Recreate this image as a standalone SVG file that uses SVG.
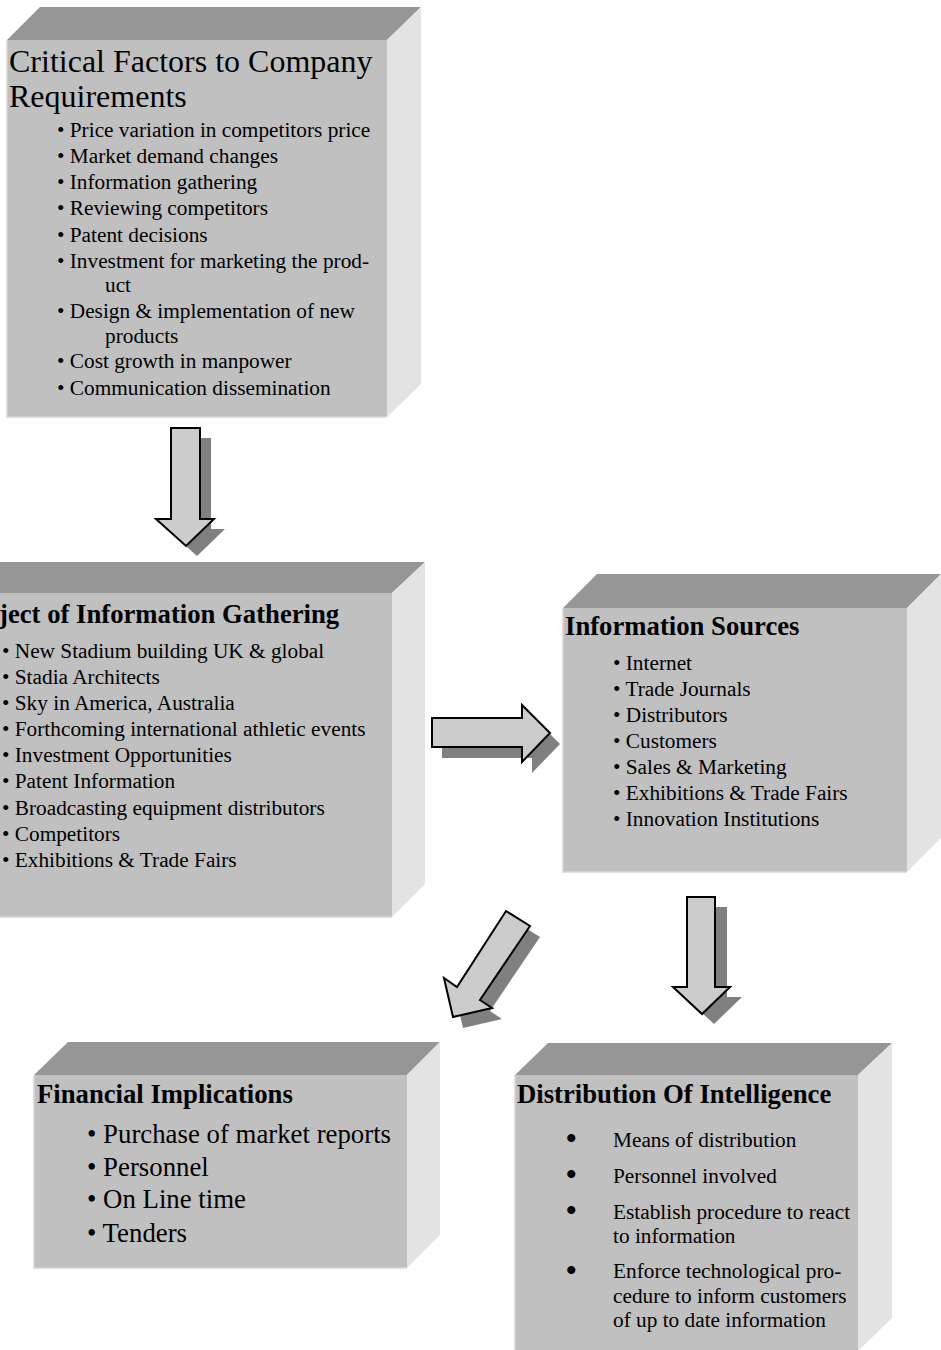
<svg xmlns="http://www.w3.org/2000/svg" width="941" height="1350" viewBox="0 0 941 1350">
<style>
.front{fill:#c0c0c0}
.top{fill:#969696}
.side{fill:#e3e3e3}
.edge{fill:none;stroke:#d6d6d6;stroke-width:1.5}
text{font-family:"Liberation Serif","Times New Roman",serif;fill:#000}
.t1{font-size:32px}
.tb{font-size:26.7px;font-weight:bold}
.b{font-size:21.3px}
.bl{font-size:26.8px}
.big{font-size:30px;font-weight:bold}
.arrow{fill:#cccccc;stroke:#000;stroke-width:2;stroke-linejoin:miter}
.shadow{fill:#808080}
</style>
<rect width="941" height="1350" fill="#ffffff"/>

<g id="critical-factors">
<polygon class="top" points="7,40 40,7 421,7 387,40"/>
<polygon class="side" points="387,40 421,7 421,384 387,417"/>
<rect class="front" x="7" y="40" width="380" height="377"/>
<polyline class="edge" points="7,40 7,417 387,417"/>
<text class="t1" x="9" y="72">Critical Factors to Company</text>
<text class="t1" x="9" y="107">Requirements</text>
<g class="b">
<text x="57" y="137">• Price variation in competitors price</text>
<text x="57" y="163">• Market demand changes</text>
<text x="57" y="189">• Information gathering</text>
<text x="57" y="215">• Reviewing competitors</text>
<text x="57" y="242">• Patent decisions</text>
<text x="57" y="268">• Investment for marketing the prod-</text>
<text x="105" y="292">uct</text>
<text x="57" y="318">• Design &amp; implementation of new</text>
<text x="105" y="343">products</text>
<text x="57" y="368">• Cost growth in manpower</text>
<text x="57" y="395">• Communication dissemination</text>
</g>
</g>

<g id="subject-info-gathering">
<polygon class="top" points="-60,593 -27,562 425,562 392,593"/>
<polygon class="side" points="392,593 425,562 425,884 392,917"/>
<rect class="front" x="-60" y="593" width="452" height="324"/>
<polyline class="edge" points="-60,917 392,917"/>
<text class="tb" x="-1" y="623">ject of Information Gathering</text>
<g class="b">
<text x="2" y="658">• New Stadium building UK &amp; global</text>
<text x="2" y="684">• Stadia Architects</text>
<text x="2" y="710">• Sky in America, Australia</text>
<text x="2" y="736">• Forthcoming international athletic events</text>
<text x="2" y="762">• Investment Opportunities</text>
<text x="2" y="788">• Patent Information</text>
<text x="2" y="815">• Broadcasting equipment distributors</text>
<text x="2" y="841">• Competitors</text>
<text x="2" y="867">• Exhibitions &amp; Trade Fairs</text>
</g>
</g>

<g id="information-sources">
<polygon class="top" points="563,608 597,574 941,574 907,608"/>
<polygon class="side" points="907,608 941,574 941,838 907,872"/>
<rect class="front" x="563" y="608" width="344" height="264"/>
<polyline class="edge" points="563,608 563,872 907,872"/>
<text class="tb" x="565" y="635">Information Sources</text>
<g class="b">
<text x="613" y="670">• Internet</text>
<text x="613" y="696">• Trade Journals</text>
<text x="613" y="722">• Distributors</text>
<text x="613" y="748">• Customers</text>
<text x="613" y="774">• Sales &amp; Marketing</text>
<text x="613" y="800">• Exhibitions &amp; Trade Fairs</text>
<text x="613" y="826">• Innovation Institutions</text>
</g>
</g>

<g id="financial-implications">
<polygon class="top" points="34,1075 68,1042 440,1042 407,1075"/>
<polygon class="side" points="407,1075 440,1042 440,1235 407,1268"/>
<rect class="front" x="34" y="1075" width="373" height="193"/>
<polyline class="edge" points="34,1075 34,1268 407,1268"/>
<text class="tb" x="37" y="1103">Financial Implications</text>
<g class="bl">
<text x="87" y="1143">• Purchase of market reports</text>
<text x="87" y="1176">• Personnel</text>
<text x="87" y="1208">• On Line time</text>
<text x="87" y="1242">• Tenders</text>
</g>
</g>

<g id="distribution-of-intelligence">
<polygon class="top" points="515,1075 548,1043 892,1043 858,1075"/>
<polygon class="side" points="858,1075 892,1043 892,1318 858,1351"/>
<rect class="front" x="515" y="1075" width="343" height="280"/>
<polyline class="edge" points="515,1075 515,1351"/>
<text class="tb" x="517" y="1103">Distribution Of Intelligence</text>
<g class="big">
<text x="566" y="1148">•</text>
<text x="566" y="1184">•</text>
<text x="566" y="1220">•</text>
<text x="566" y="1280">•</text>
</g>
<g class="b">
<text x="613" y="1147">Means of distribution</text>
<text x="613" y="1183">Personnel involved</text>
<text x="613" y="1219">Establish procedure to react</text>
<text x="613" y="1243">to information</text>
<text x="613" y="1278">Enforce technological pro-</text>
<text x="613" y="1303">cedure to inform customers</text>
<text x="613" y="1327">of up to date information</text>
</g>
</g>

<g id="connectors">
<g id="arrow-critical-to-subject">
<polygon class="shadow" transform="translate(11,10)" points="171,428 200,428 200,519 214,519 186,546 156,519 171,519"/>
<polygon class="arrow" points="171,428 200,428 200,519 214,519 186,546 156,519 171,519"/>
</g>
<g id="arrow-subject-to-sources">
<polygon class="shadow" transform="translate(10,11)" points="432,718 522,718 522,705 550,733 522,762 522,747 432,747"/>
<polygon class="arrow" points="432,718 522,718 522,705 550,733 522,762 522,747 432,747"/>
</g>
<g id="arrow-sources-to-distribution">
<polygon class="shadow" transform="translate(12,10)" points="687,897 715,897 715,987 730,987 702,1014 673,987 687,987"/>
<polygon class="arrow" points="687,897 715,897 715,987 730,987 702,1014 673,987 687,987"/>
</g>
<g id="arrow-to-financial">
<polygon class="shadow" transform="translate(10,11)" points="506,911 530,926 480,1000 492,1008 453,1017 444,978 457,987"/>
<polygon class="arrow" points="506,911 530,926 480,1000 492,1008 453,1017 444,978 457,987"/>
</g>
</g>
</svg>
